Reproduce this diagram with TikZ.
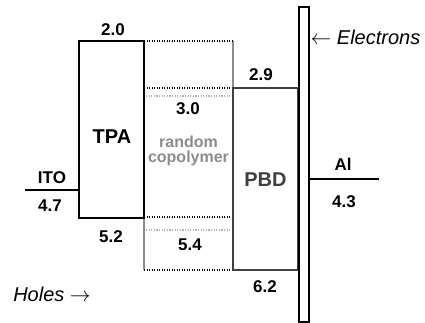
\documentclass[tikz,border=0pt]{standalone}
\usepackage{fontspec}
\setmainfont{Liberation Sans}
\usetikzlibrary{positioning,calc}
\definecolor{darkgrey}{HTML}{404040}
\definecolor{midgrey}{HTML}{8C8C8C}
\definecolor{lightgrey}{HTML}{B4B4B4}

\begin{document}
\begin{tikzpicture}[x=1pt,y=-1pt,
    level/.style={draw, line width=2pt, fill=white, inner sep=0pt},
    val/.style={font=\fontsize{17}{20}\selectfont\bfseries},
    material/.style={font=\fontsize{20}{24}\selectfont\bfseries},
    carrier/.style={font=\fontsize{20}{23}\selectfont\itshape},
    darkdots/.style={line width=1.6pt, dash pattern=on 1.4pt off 1.1pt},
    lightdots/.style={lightgrey, line width=1.2pt, dash pattern=on 1.2pt off 1.4pt}]
						\useasboundingbox (0,0) rectangle (425,323);
						% copolymer band
						\draw[midgrey, line width=1.5pt] (144,41) -- (144,270);
						\draw[midgrey, line width=1.5pt] (233,41) -- (233,270);
						\draw[darkdots] (144,41) -- (233,41);
						\draw[darkdots] (144,270) -- (233,270);
						\draw[darkdots] (144,88) -- (233,88);
						\draw[lightdots] (146,96) -- (231,96);
						\draw[darkdots] (144,217) -- (233,217);
						\draw[lightdots] (146,230) -- (231,230);
						% layers
						\node[level, minimum width=65pt, minimum height=177pt] (tpa) at (111.5,129.5) {};
						\node[level, draw=darkgrey, minimum width=65pt, minimum height=182pt] (pbd) at (265.5,179) {};
						\node[level, minimum width=10pt, minimum height=315pt] (cathode) at (304,164.5) {};
						% electrodes
						\coordinate (ito) at (25,190);
						\coordinate (al) at (379,179);
						\draw[line width=2pt] (ito) -- (ito -| tpa.west);
						\draw[line width=2pt] (cathode.east |- al) -- (al);
						% labels
						\node[material] (tpatext) at (112,137) {TPA};
						\node[material, darkgrey] (pbdtext) at (265.5,180) {PBD};
						\node[midgrey, align=center, font=\fontsize{16}{15.5}\selectfont\bfseries] (copotext) at (188.5,151) {random\\copolymer};
						\node[val] (tpalumo) at (113,30) {2.0};
						\node[val] (copolumo) at (188,109) {3.0};
						\node[val] (pbdlumo) at (261,75) {2.9};
						\node[val] (tpahomo) at (111,237) {5.2};
						\node[val] (copohomo) at (190,245) {5.4};
						\node[val] (pbdhomo) at (265,287) {6.2};
						\node[val] (itotext) at (52,178) {ITO};
						\node[val] (itoval) at (50,206) {4.7};
						\node[val] (altext) at (343,164) {Al};
						\node[val] (alval) at (344,202) {4.3};
						\node[carrier] (electrons) at (365.5,37) {$\leftarrow$ Electrons};
						\node[carrier] (holes) at (52,294) {Holes $\rightarrow$};
					\end{tikzpicture}
\end{document}
